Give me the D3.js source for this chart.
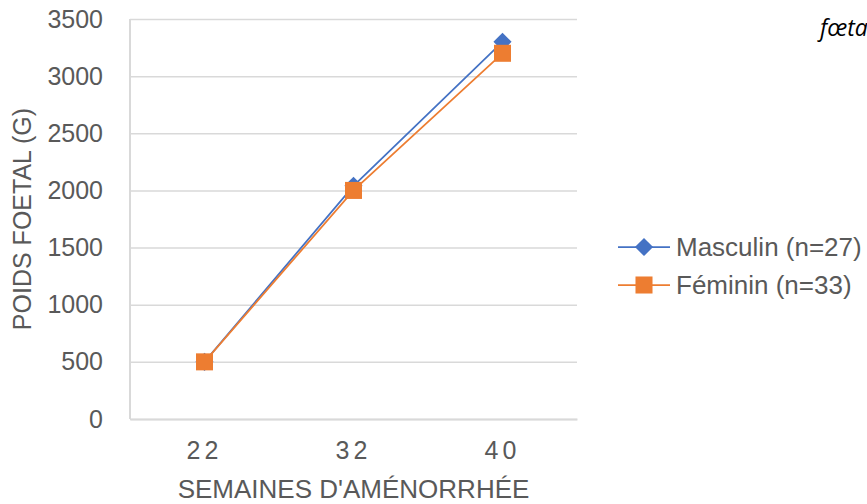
<!DOCTYPE html>
<html>
<head>
<meta charset="utf-8">
<script src="https://cdn.jsdelivr.net/npm/d3@7"></script>
<style>
  html, body { margin: 0; padding: 0; background: #fff; }
  svg { display: block; }
</style>
</head>
<body>
<svg id="chart" width="867" height="504"></svg>
<script>
const categories = ["22", "32", "40"];
const masculin = [500, 2040, 3300];
const feminin = [500, 2000, 3200];
const yTicks = [0, 500, 1000, 1500, 2000, 2500, 3000, 3500];
const seriesNames = ["Masculin (n=27)", "Féminin (n=33)"];
const xTitle = "SEMAINES D'AMÉNORRHÉE";
const yTitle = "POIDS FOETAL (G)";
const cornerText = "fœtal";

const svg = d3.select("#chart");
const W = 867, H = 504;
const m = { left: 130, right: 290, top: 19, bottom: 85 };
const textColor = "#595959";
const gridColor = "#d9d9d9";
const colors = ["#4472C4", "#ED7D31"];
const font = "'Liberation Sans', Arial, sans-serif";

const x = d3.scaleBand().domain(categories).range([m.left, W - m.right]).padding(0);
const y = d3.scaleLinear().domain([0, 3500]).range([H - m.bottom, m.top]);

// gridlines
const yAxis = d3.axisLeft(y).tickValues(yTicks).tickFormat(d3.format("d"))
  .tickSize(-(W - m.right - m.left)).tickPadding(27);
const gy = svg.append("g").attr("transform", `translate(${m.left},0)`).call(yAxis);
gy.select(".domain").remove();
gy.selectAll(".tick line").attr("stroke", gridColor).attr("stroke-width", 1.5);
gy.selectAll(".tick text").attr("fill", textColor).style("font-family", font).style("font-size", "25px");

// left axis line
svg.append("line")
  .attr("x1", m.left).attr("x2", m.left)
  .attr("y1", y(3500)).attr("y2", y(0))
  .attr("stroke", gridColor).attr("stroke-width", 2);

// bottom axis
const xAxis = d3.axisBottom(x).tickSize(0).tickPadding(22);
const gx = svg.append("g").attr("transform", `translate(0,${y(0)})`).call(xAxis);
gx.select(".domain").attr("stroke", gridColor).attr("stroke-width", 2);
gx.selectAll(".tick text").attr("fill", textColor).style("font-family", font)
  .style("font-size", "25px").style("letter-spacing", "4px");

// axis titles
svg.append("text")
  .attr("x", (m.left + W - m.right) / 2).attr("y", 498)
  .attr("text-anchor", "middle").attr("fill", textColor)
  .style("font-family", font).style("font-size", "26px")
  .text(xTitle);

svg.append("text")
  .attr("transform", `translate(31,${(m.top + H - m.bottom) / 2}) rotate(-90)`)
  .attr("text-anchor", "middle").attr("fill", textColor)
  .style("font-family", font).style("font-size", "25px")
  .text(yTitle);

// series
const series = [masculin, feminin];
const symbols = [
  d3.symbol().type(d3.symbolSquare).size(165),
  d3.symbol().type(d3.symbolSquare).size(290)
];
const rotations = [45, 0];
const line = d3.line().x((d, i) => x(categories[i]) + x.bandwidth() / 2).y(d => y(d));

series.forEach((vals, s) => {
  const g = svg.append("g");
  g.append("path").datum(vals)
    .attr("d", line).attr("fill", "none")
    .attr("stroke", colors[s]).attr("stroke-width", 1.75);
  g.selectAll("path.mk").data(vals).enter().append("path")
    .attr("class", "mk")
    .attr("d", symbols[s])
    .attr("transform", (d, i) => `translate(${x(categories[i]) + x.bandwidth() / 2},${y(d)}) rotate(${rotations[s]})`)
    .attr("fill", colors[s]);
});

// legend
const legY = [247, 285];
seriesNames.forEach((name, s) => {
  const g = svg.append("g").attr("transform", `translate(0,${legY[s]})`);
  g.append("line").attr("x1", 618).attr("x2", 670).attr("y1", 0).attr("y2", 0)
    .attr("stroke", colors[s]).attr("stroke-width", 1.75);
  g.append("path").attr("d", symbols[s])
    .attr("transform", `translate(644,0) rotate(${rotations[s]})`)
    .attr("fill", colors[s]);
  g.append("text").attr("x", 676).attr("y", 0).attr("dy", "0.35em")
    .attr("fill", textColor).style("font-family", font).style("font-size", "26px")
    .text(name);
});

// cut-off corner text
svg.append("text")
  .attr("x", 820).attr("y", 36)
  .attr("fill", "#000")
  .style("font-family", "'Open Sans', 'Noto Sans', sans-serif")
  .style("font-style", "italic").style("font-size", "23px")
  .text(cornerText);
</script>
</body>
</html>
